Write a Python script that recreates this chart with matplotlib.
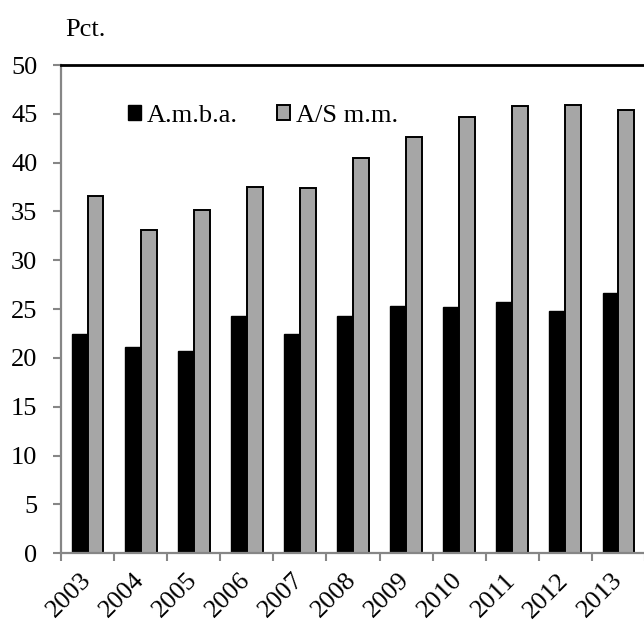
import numpy as np
import matplotlib.pyplot as plt
from matplotlib.ticker import FixedLocator

years = ['2003', '2004', '2005', '2006', '2007', '2008', '2009', '2010', '2011', '2012', '2013']
amba = [22.5, 21.1, 20.7, 24.3, 22.5, 24.3, 25.3, 25.2, 25.7, 24.8, 26.7]
asmm = [36.6, 33.1, 35.2, 37.5, 37.4, 40.5, 42.6, 44.7, 45.8, 45.9, 45.4]

plt.rcParams['font.family'] = ['Liberation Serif', 'DejaVu Serif']
fs = 19

fig = plt.figure(figsize=(6.44, 6.23), dpi=100)
ax = fig.add_axes([61 / 644, 69.7 / 623, 584 / 644, 488.3 / 623])

x = np.arange(len(years))
w = 0.3
ax.bar(x - w / 2, amba, w, color='black', edgecolor='black', linewidth=1.0, label='A.m.b.a.')
ax.bar(x + w / 2, asmm, w, color='#a6a6a6', edgecolor='black', linewidth=1.4, label='A/S m.m.')

ax.set_xlim(-0.5, len(years) - 0.5)
ax.set_ylim(0, 50)
ax.set_yticks(np.arange(0, 51, 5))

# year labels at the centres, tick marks at the category boundaries
ax.set_xticks(x)
ax.set_xticklabels(years, rotation=45, ha='right', va='center', rotation_mode='anchor', fontsize=fs)
ax.xaxis.set_minor_locator(FixedLocator(np.arange(-0.5, len(years), 1.0)))
ax.tick_params(axis='x', which='major', length=0, pad=17)
ax.tick_params(axis='x', which='minor', length=6, width=1.5, color='#868686', direction='out')
ax.tick_params(axis='y', length=6, width=1.5, color='#868686', direction='out', pad=11, labelsize=fs)

for s in ['left', 'bottom']:
    ax.spines[s].set_color('#868686')
    ax.spines[s].set_linewidth(1.6)
ax.spines['top'].set_color('black')
ax.spines['top'].set_linewidth(2.0)
ax.spines['right'].set_visible(False)

ax.legend(loc='upper left', bbox_to_anchor=(0.097, 0.94), ncol=2, frameon=False, fontsize=fs,
          handlelength=0.5, handleheight=0.5, handletextpad=0.2, columnspacing=1.5, borderaxespad=0)

fig.text(65 / 644, 1 - 30 / 623, 'Pct.', fontsize=fs, ha='left', va='center')

fig.savefig('out.png', dpi=100)
